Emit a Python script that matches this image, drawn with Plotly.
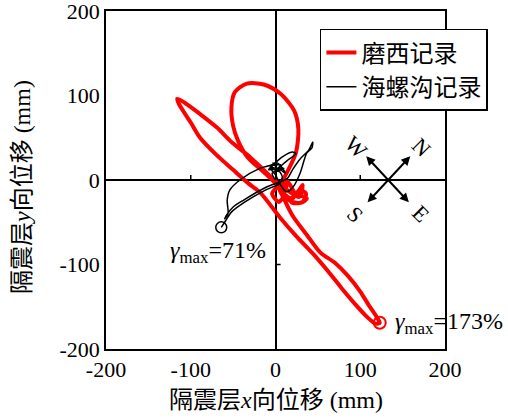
import plotly.graph_objects as go

# Isolation-layer displacement orbits (mm)
moxi_x = [0, 6, 14, 10, 20, 28, 36, 32, 20, 12, 4, -4, 6,
          14, 24, 27, 22, 6, -14, -34, -48, -52, -50, -44, -33, -18, -6,
          4, 16, 26, 37, 30, 16, 8,
          2, -10, -30, -52, -69, -89, -108, -116,
          -114, -100, -89, -70, -50, -32, -18, 5, 25, 45, 62, 78, 95, 108, 118, 123,
          120, 110, 100, 86, 70, 53, 37, 20, 9, 4,
          14, 24, 32, 28, 14, 6, 10]
moxi_y = [0, -8, -4, -16, -22, -12, -16, -26, -27, -18, -26, -16, -4,
          10, 32, 60, 82, 102, 113, 114, 104, 86, 64, 46, 27, 13, 2,
          -8, -22, -18, -22, -27, -24, -14,
          -5, 8, 27, 45, 62, 78, 92, 96,
          90, 68, 50, 30, 12, -4, -15, -44, -67, -88, -108, -128, -148, -162, -170, -169,
          -163, -148, -132, -114, -98, -86, -65, -42, -20, -8,
          -2, -16, -6, -20, -12, -6, -2]

hlg_x = [0, -4, 4, -6, 6, 0, 10, -8, 2, 12,
         5, 15, 24, 20, 9, -4,
         -18, -42, -54, -57, -56, -60, -58, -50, -38, -10, 14, 20, 30, 39, 44,
         43, 37, 29, 21, 13, 6, 0, -6, 4, -3, 8,
         5, -12, -36, -52, -60, -64]
hlg_y = [0, 8, 12, 16, 18, 10, 14, 12, 20, 8,
         14, 24, 31, 33, 28, 18,
         14, 0, -12, -24, -39, -46, -42, -32, -24, -8, 2, 12, 26, 35, 45,
         38, 32, 8, -8, -14, -6, 6, 14, 10, 20, 4,
         -4, -12, -26, -38, -50, -56]

peak_labels = ["<i>γ</i><sub>max</sub>=173%", "<i>γ</i><sub>max</sub>=71%"]
axis_ticks = [-200, -100, 0, 100, 200]
axis_ticktext = ["-200", "-100", "0", "100", "200"]

SERIF = "Liberation Serif, Noto Sans CJK SC"

fig = go.Figure()
fig.add_trace(go.Scatter(x=moxi_x, y=moxi_y, mode="lines", name="磨西记录",
                         line=dict(color="#ff0000", width=4, shape="spline", smoothing=0.8)))
fig.add_trace(go.Scatter(x=hlg_x, y=hlg_y, mode="lines", name="海螺沟记录",
                         line=dict(color="black", width=1.5, shape="spline", smoothing=0.8)))
# peak markers
ipk = moxi_x.index(max(moxi_x))
fig.add_trace(go.Scatter(x=[moxi_x[ipk]], y=[moxi_y[ipk]], mode="markers", showlegend=False,
                         marker=dict(symbol="circle-open", size=12, color="#ff0000",
                                     line=dict(width=2, color="#ff0000"))))
fig.add_trace(go.Scatter(x=[hlg_x[-1]], y=[hlg_y[-1]], mode="markers", showlegend=False,
                         marker=dict(symbol="circle-open", size=11, color="black",
                                     line=dict(width=1.5, color="black"))))

fig.add_annotation(x=139, y=-169, text=peak_labels[0], showarrow=False,
                   xanchor="left", yanchor="middle",
                   font=dict(family=SERIF, size=24, color="black"))
fig.add_annotation(x=-127, y=-85, text=peak_labels[1], showarrow=False,
                   xanchor="left", yanchor="middle",
                   font=dict(family=SERIF, size=24, color="black"))

# compass rose
cx, cy, dx, dy = 133, 0, 26, 28
for x0, x1 in ((cx - dx, cx + dx), (cx + dx, cx - dx)):
    fig.add_annotation(x=x1, y=cy + dy, ax=x0, ay=cy - dy, axref="x", ayref="y",
                       xref="x", yref="y", showarrow=True, arrowhead=2, arrowside="end+start",
                       arrowwidth=2, arrowsize=0.9, arrowcolor="black", text="")
for lab, lx, ly in [("W", 96, 39), ("N", 172, 38), ("S", 94, -41), ("E", 171, -40)]:
    fig.add_annotation(x=lx, y=ly, text=lab, showarrow=False, textangle=45,
                       font=dict(family=SERIF, size=22, color="black"))

# small ticks on the cross axes
for tx in (-100, 100):
    fig.add_shape(type="line", x0=tx, x1=tx, y0=0, y1=6, line=dict(color="black", width=1.5))
fig.add_shape(type="line", x0=0, x1=6, y0=-100, y1=-100, line=dict(color="black", width=1.5))

# axis titles
fig.add_annotation(xref="paper", yref="paper", x=0.5, y=-0.151, showarrow=False,
                   xanchor="center", yanchor="middle",
                   text="隔震层<i>x</i>向位移 (mm)",
                   font=dict(family=SERIF, size=24, color="black"))
fig.add_annotation(xref="paper", yref="paper", x=-0.248, y=0.479, showarrow=False,
                   xanchor="center", yanchor="middle",
                   textangle=-90, text="隔震层<i>y</i>向位移 (mm)",
                   font=dict(family=SERIF, size=24, color="black"))

axis_common = dict(range=[-200, 200], tickvals=axis_ticks, ticktext=axis_ticktext,
                   ticks="", showgrid=False, automargin=False, ticklabeloverflow="allow",
                   showline=True, mirror=True, linecolor="black", linewidth=1.5,
                   zeroline=True, zerolinecolor="black", zerolinewidth=1.5,
                   tickfont=dict(family=SERIF, size=22, color="black"))

fig.update_layout(
    width=508, height=419,
    margin=dict(l=106, r=63, t=11, b=70),
    paper_bgcolor="white", plot_bgcolor="white",
    showlegend=True,
    legend=dict(x=0.631, y=0.947, xanchor="left", yanchor="top",
                bordercolor="black", borderwidth=1.5, bgcolor="white",
                font=dict(family=SERIF, size=24, color="black")),
    xaxis=axis_common,
    yaxis=axis_common,
)

fig.write_html("out.html")
